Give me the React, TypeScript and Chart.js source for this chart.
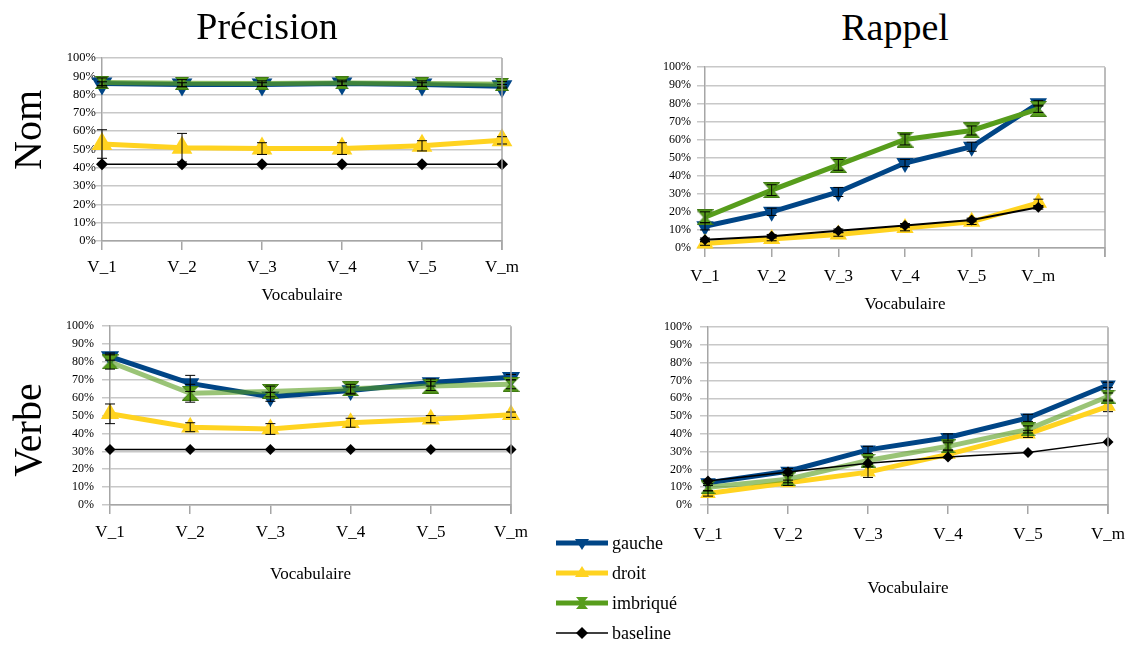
import React, { useEffect, useRef } from "react";
import { Chart, registerables } from "chart.js";

Chart.register(...registerables);

// ---------- data ----------
const categories = ["V_1", "V_2", "V_3", "V_4", "V_5", "V_m"];
const categoriesRappelNom = ["V_1", "V_2", "V_3", "V_4", "V_5", "V_m", ""];
const seriesNames = ["gauche", "droit", "imbriqué", "baseline"];

// Précision / Nom
const precNomGauche = [86, 85.5, 85.5, 86, 85.5, 84.5];
const precNomGaucheErr = [1, 1, 1, 1, 1, 1];
const precNomDroit = [53, 51, 50.5, 50.5, 52, 55];
const precNomDroitErr = [7.8, 7.8, 3.2, 3.2, 2.8, 2];
const precNomImbrique = [86.6, 86.2, 86, 86.4, 86, 85.6];
const precNomImbriqueErr = [2.5, 2, 1.5, 1.5, 1.5, 1.5];
const precNomBaseline = [42, 42, 42, 42, 42, 42];

// Rappel / Nom
const rappNomGauche = [12, 20, 31, 47, 56, 80];
const rappNomGaucheErr = [2, 2, 2.5, 2, 2.5, 1.5];
const rappNomDroit = [2.5, 5, 7.5, 11, 14.5, 25];
const rappNomDroitErr = [1, 1, 1, 1.5, 1.5, 2];
const rappNomImbrique = [17, 32, 46, 60, 65, 77];
const rappNomImbriqueErr = [3, 3, 3, 3, 2.5, 2];
const rappNomBaseline = [4.5, 6.5, 9.5, 12.5, 15.5, 22.5];
const rappNomBaselineErr = [1, 1, 1, 1, 1, 1];

// Précision / Verbe
const precVerbeGauche = [83, 68, 60.5, 64, 68.5, 71.5];
const precVerbeGaucheErr = [2, 4.5, 2.5, 2, 2, 1.5];
const precVerbeDroit = [51, 43.5, 42.5, 46, 48, 50.5];
const precVerbeDroitErr = [5.5, 2.5, 3, 2.5, 2, 1.5];
const precVerbeImbrique = [80, 62.5, 63.5, 65, 66.5, 67.5];
const precVerbeImbriqueErr = [4, 5, 3, 2.5, 2.5, 2.5];
const precVerbeBaseline = [31, 31, 31, 31, 31, 31];

// Rappel / Verbe
const rappVerbeGauche = [12.5, 19, 31, 38, 49, 67.5];
const rappVerbeGaucheErr = [1.5, 1.5, 2, 2, 2, 1.5];
const rappVerbeDroit = [6.5, 12.5, 18.5, 28.5, 40, 55.5];
const rappVerbeDroitErr = [1.5, 1.5, 3, 2, 2, 3];
const rappVerbeImbrique = [10, 14.5, 25, 33, 42.5, 61];
const rappVerbeImbriqueErr = [2, 2, 2, 2, 2, 2];
const rappVerbeBaseline = [13.5, 18.5, 23.5, 27, 29.5, 35.5];

// ---------- styles ----------
const BLUE = "#004586";
const YELLOW = "#FFD320";
const GREEN = "#579D1C";
const FONT = "'Liberation Serif', 'DejaVu Serif', serif";

function hourglass(w: number, h: number): HTMLCanvasElement {
  const c = document.createElement("canvas");
  c.width = w;
  c.height = h;
  const ctx = c.getContext("2d")!;
  ctx.beginPath();
  ctx.moveTo(0.5, 0.5);
  ctx.lineTo(w - 0.5, 0.5);
  ctx.lineTo(w / 2 + 1.2, h / 2);
  ctx.lineTo(w - 0.5, h - 0.5);
  ctx.lineTo(0.5, h - 0.5);
  ctx.lineTo(w / 2 - 1.2, h / 2);
  ctx.closePath();
  ctx.fillStyle = GREEN;
  ctx.fill();
  ctx.strokeStyle = "#3f7a12";
  ctx.lineWidth = 1;
  ctx.stroke();
  return c;
}

const errorBarsPlugin = {
  id: "errorBars",
  afterDatasetsDraw(chart: any) {
    const ctx = chart.ctx;
    const ys = chart.scales.y;
    chart.data.datasets.forEach((ds: any, i: number) => {
      const errs = ds.errorBars;
      if (!errs) return;
      const meta = chart.getDatasetMeta(i);
      meta.data.forEach((pt: any, j: number) => {
        const e = errs[j];
        if (!e) return;
        const v = ds.data[j];
        const yt = ys.getPixelForValue(v + e);
        const yb = ys.getPixelForValue(v - e);
        const x = pt.x;
        const cw = ds.capHalf || 5;
        ctx.save();
        ctx.strokeStyle = "#000";
        ctx.lineWidth = 1;
        ctx.beginPath();
        ctx.moveTo(x, yt);
        ctx.lineTo(x, yb);
        ctx.moveTo(x - cw, yt);
        ctx.lineTo(x + cw, yt);
        ctx.moveTo(x - cw, yb);
        ctx.lineTo(x + cw, yb);
        ctx.stroke();
        ctx.restore();
      });
    });
  },
};

const rightBorderPlugin = {
  id: "rightBorder",
  afterDraw(chart: any) {
    const { ctx, chartArea } = chart;
    ctx.save();
    ctx.strokeStyle = "#A6A6A6";
    ctx.lineWidth = 1.5;
    ctx.beginPath();
    ctx.moveTo(chartArea.right, chartArea.top);
    ctx.lineTo(chartArea.right, chartArea.bottom + 9);
    ctx.stroke();
    ctx.restore();
  },
};

type Spec = {
  labels: string[];
  gauche: number[];
  gaucheErr: number[];
  droit: number[];
  droitErr: number[];
  imbrique: number[];
  imbriqueErr: number[];
  baseline: number[];
  baselineErr?: number[];
  L: number;
  R: number;
  T: number;
  B: number;
  labelY: number;
  titleY: number;
  yLabelRight: number;
  yFont: number;
  tri: number;
  hgW: number;
  hgH: number;
  dia: number;
  greenLine: string;
  baseWidth: number;
};

const specs: Spec[] = [
  {
    labels: categories,
    gauche: precNomGauche, gaucheErr: precNomGaucheErr,
    droit: precNomDroit, droitErr: precNomDroitErr,
    imbrique: precNomImbrique, imbriqueErr: precNomImbriqueErr,
    baseline: precNomBaseline,
    L: 102, R: 502, T: 58, B: 241, labelY: 268, titleY: 296, yLabelRight: 96, yFont: 12.5,
    tri: 12, hgW: 14, hgH: 13, dia: 6, greenLine: "rgba(87,157,28,0.7)", baseWidth: 1.5,
  },
  {
    labels: categoriesRappelNom,
    gauche: rappNomGauche, gaucheErr: rappNomGaucheErr,
    droit: rappNomDroit, droitErr: rappNomDroitErr,
    imbrique: rappNomImbrique, imbriqueErr: rappNomImbriqueErr,
    baseline: rappNomBaseline, baselineErr: rappNomBaselineErr,
    L: 705, R: 1105, T: 66, B: 248, labelY: 277, titleY: 305, yLabelRight: 691, yFont: 12,
    tri: 10, hgW: 17, hgH: 16, dia: 5.5, greenLine: GREEN, baseWidth: 2,
  },
  {
    labels: categories,
    gauche: precVerbeGauche, gaucheErr: precVerbeGaucheErr,
    droit: precVerbeDroit, droitErr: precVerbeDroitErr,
    imbrique: precVerbeImbrique, imbriqueErr: precVerbeImbriqueErr,
    baseline: precVerbeBaseline,
    L: 110, R: 511, T: 323, B: 505, labelY: 533, titleY: 575, yLabelRight: 94, yFont: 12,
    tri: 10.5, hgW: 17, hgH: 15, dia: 5.5, greenLine: "rgba(87,157,28,0.6)", baseWidth: 1.5,
  },
  {
    labels: categories,
    gauche: rappVerbeGauche, gaucheErr: rappVerbeGaucheErr,
    droit: rappVerbeDroit, droitErr: rappVerbeDroitErr,
    imbrique: rappVerbeImbrique, imbriqueErr: rappVerbeImbriqueErr,
    baseline: rappVerbeBaseline,
    L: 708, R: 1108, T: 324, B: 505, labelY: 535, titleY: 589, yLabelRight: 692, yFont: 12,
    tri: 9, hgW: 15, hgH: 14, dia: 5.5, greenLine: "rgba(87,157,28,0.6)", baseWidth: 1.5,
  },
];

function geom(s: Spec) {
  const left = s.L - 80;
  const top = s.T - 12;
  const width = s.R + 30 - left;
  const height = s.titleY + 14 - top;
  return { left, top, width, height };
}

function makeConfig(s: Spec): any {
  const g = geom(s);
  const xTick = 9;
  const yTick = s === specs[0] ? 6 : 8;
  const xFont = 17;
  const titleFont = 17;
  const xPad = s.labelY - s.B - xTick - (xFont * 1.2) / 2;
  const titlePadBottom = g.top + g.height - s.titleY - (titleFont * 1.2) / 2;
  const yPad = s.L - yTick - s.yLabelRight;
  const hg = hourglass(s.hgW, s.hgH);
  return {
    type: "line",
    data: {
      labels: s.labels,
      datasets: [
        {
          label: seriesNames[0], data: s.gauche, errorBars: s.gaucheErr,
          borderColor: BLUE, backgroundColor: BLUE, borderWidth: 5,
          pointStyle: "triangle", pointRotation: 180, pointRadius: s.tri,
          pointBorderWidth: 0, order: 4, clip: false, tension: 0,
        },
        {
          label: seriesNames[1], data: s.droit, errorBars: s.droitErr,
          borderColor: YELLOW, backgroundColor: YELLOW, borderWidth: 5,
          pointStyle: "triangle", pointRadius: s.tri,
          pointBorderWidth: 0, order: 3, clip: false, tension: 0,
        },
        {
          label: seriesNames[2], data: s.imbrique, errorBars: s.imbriqueErr,
          borderColor: s.greenLine, backgroundColor: GREEN, borderWidth: 5,
          pointStyle: hg, pointRadius: s.hgW / 2,
          pointBorderWidth: 0, order: 2, clip: false, tension: 0,
        },
        {
          label: seriesNames[3], data: s.baseline, errorBars: s.baselineErr,
          borderColor: "#000", backgroundColor: "#000", borderWidth: s.baseWidth,
          pointStyle: "rectRot", pointRadius: s.dia,
          pointBorderWidth: 0, order: 1, clip: false, tension: 0,
        },
      ],
    },
    options: {
      animation: false,
      responsive: false,
      maintainAspectRatio: false,
      layout: { padding: { top: 12, right: 30, left: 0, bottom: 0 } },
      plugins: { legend: { display: false }, tooltip: { enabled: false }, title: { display: false } },
      scales: {
        x: {
          type: "category",
          offset: false,
          grid: { drawOnChartArea: false, drawTicks: true, tickLength: xTick, color: "#A6A6A6", lineWidth: 1.5 },
          border: { display: true, color: "#A6A6A6", width: 1.5 },
          ticks: { autoSkip: false, maxRotation: 0, minRotation: 0, padding: xPad, color: "#000", font: { family: FONT, size: xFont } },
          title: { display: true, text: "Vocabulaire", color: "#000", font: { family: FONT, size: titleFont }, padding: { top: 0, bottom: titlePadBottom } },
          afterFit: (scale: any) => { scale.height = g.top + g.height - s.B; },
        },
        y: {
          min: 0,
          max: 100,
          ticks: { stepSize: 10, autoSkip: false, padding: yPad, color: "#000", font: { family: FONT, size: s.yFont }, callback: (v: any) => v + "%" },
          grid: { color: "#C8C8C8", lineWidth: 1.5, tickLength: yTick, drawTicks: true },
          border: { display: true, color: "#A6A6A6", width: 1.5 },
          afterFit: (scale: any) => { scale.width = s.L - g.left; },
        },
      },
    },
    plugins: [errorBarsPlugin, rightBorderPlugin],
  };
}

function LegendIcon({ kind }: { kind: number }) {
  const colors = [BLUE, YELLOW, GREEN, "#000"];
  const c = colors[kind];
  const cx = 26, cy = 10;
  let marker: any = null;
  if (kind === 0) marker = <polygon points={`${cx - 7},${cy - 4} ${cx + 7},${cy - 4} ${cx},${cy + 7}`} fill={BLUE} />;
  if (kind === 1) marker = <polygon points={`${cx - 7},${cy + 4} ${cx + 7},${cy + 4} ${cx},${cy - 7}`} fill={YELLOW} />;
  if (kind === 2) marker = <polygon points={`${cx - 6},${cy - 6} ${cx + 6},${cy - 6} ${cx + 1},${cy} ${cx + 6},${cy + 6} ${cx - 6},${cy + 6} ${cx - 1},${cy}`} fill={GREEN} />;
  if (kind === 3) marker = <polygon points={`${cx - 6},${cy} ${cx},${cy - 6} ${cx + 6},${cy} ${cx},${cy + 6}`} fill="#000" />;
  return (
    <svg width={52} height={20} style={{ display: "block" }}>
      <line x1={0} y1={cy} x2={52} y2={cy} stroke={c} strokeWidth={kind === 3 ? 1.5 : 5} />
      {marker}
    </svg>
  );
}

export default function App() {
  const refs = [useRef<HTMLCanvasElement>(null), useRef<HTMLCanvasElement>(null), useRef<HTMLCanvasElement>(null), useRef<HTMLCanvasElement>(null)];

  useEffect(() => {
    document.body.style.margin = "0";
    const charts = specs.map((s, i) => new Chart(refs[i].current!, makeConfig(s)));
    return () => charts.forEach((c) => c.destroy());
  }, []);

  const legendY = [543, 573, 603, 633];
  const textStyle: any = { position: "absolute", fontFamily: FONT, color: "#000", whiteSpace: "nowrap" };

  return (
    <div style={{ position: "relative", width: 1135, height: 645, background: "#fff", overflow: "hidden" }}>
      {specs.map((s, i) => {
        const g = geom(s);
        return (
          <canvas
            key={i}
            ref={refs[i]}
            width={g.width}
            height={g.height}
            style={{ position: "absolute", left: g.left, top: g.top, width: g.width, height: g.height }}
          />
        );
      })}
      <div style={{ ...textStyle, left: 267, top: 26, fontSize: 38, transform: "translate(-50%,-50%)" }}>Précision</div>
      <div style={{ ...textStyle, left: 895, top: 27, fontSize: 38, transform: "translate(-50%,-50%)" }}>Rappel</div>
      <div style={{ ...textStyle, left: 27, top: 130, fontSize: 40, transform: "translate(-50%,-50%) rotate(-90deg)" }}>Nom</div>
      <div style={{ ...textStyle, left: 27, top: 430, fontSize: 40, transform: "translate(-50%,-50%) rotate(-90deg)" }}>Verbe</div>
      {seriesNames.map((n, i) => (
        <div key={n} style={{ position: "absolute", left: 556, top: legendY[i] - 10, display: "flex", alignItems: "center", height: 20 }}>
          <LegendIcon kind={i} />
          <span style={{ fontFamily: FONT, fontSize: 18, marginLeft: 4, lineHeight: "20px" }}>{n}</span>
        </div>
      ))}
    </div>
  );
}
